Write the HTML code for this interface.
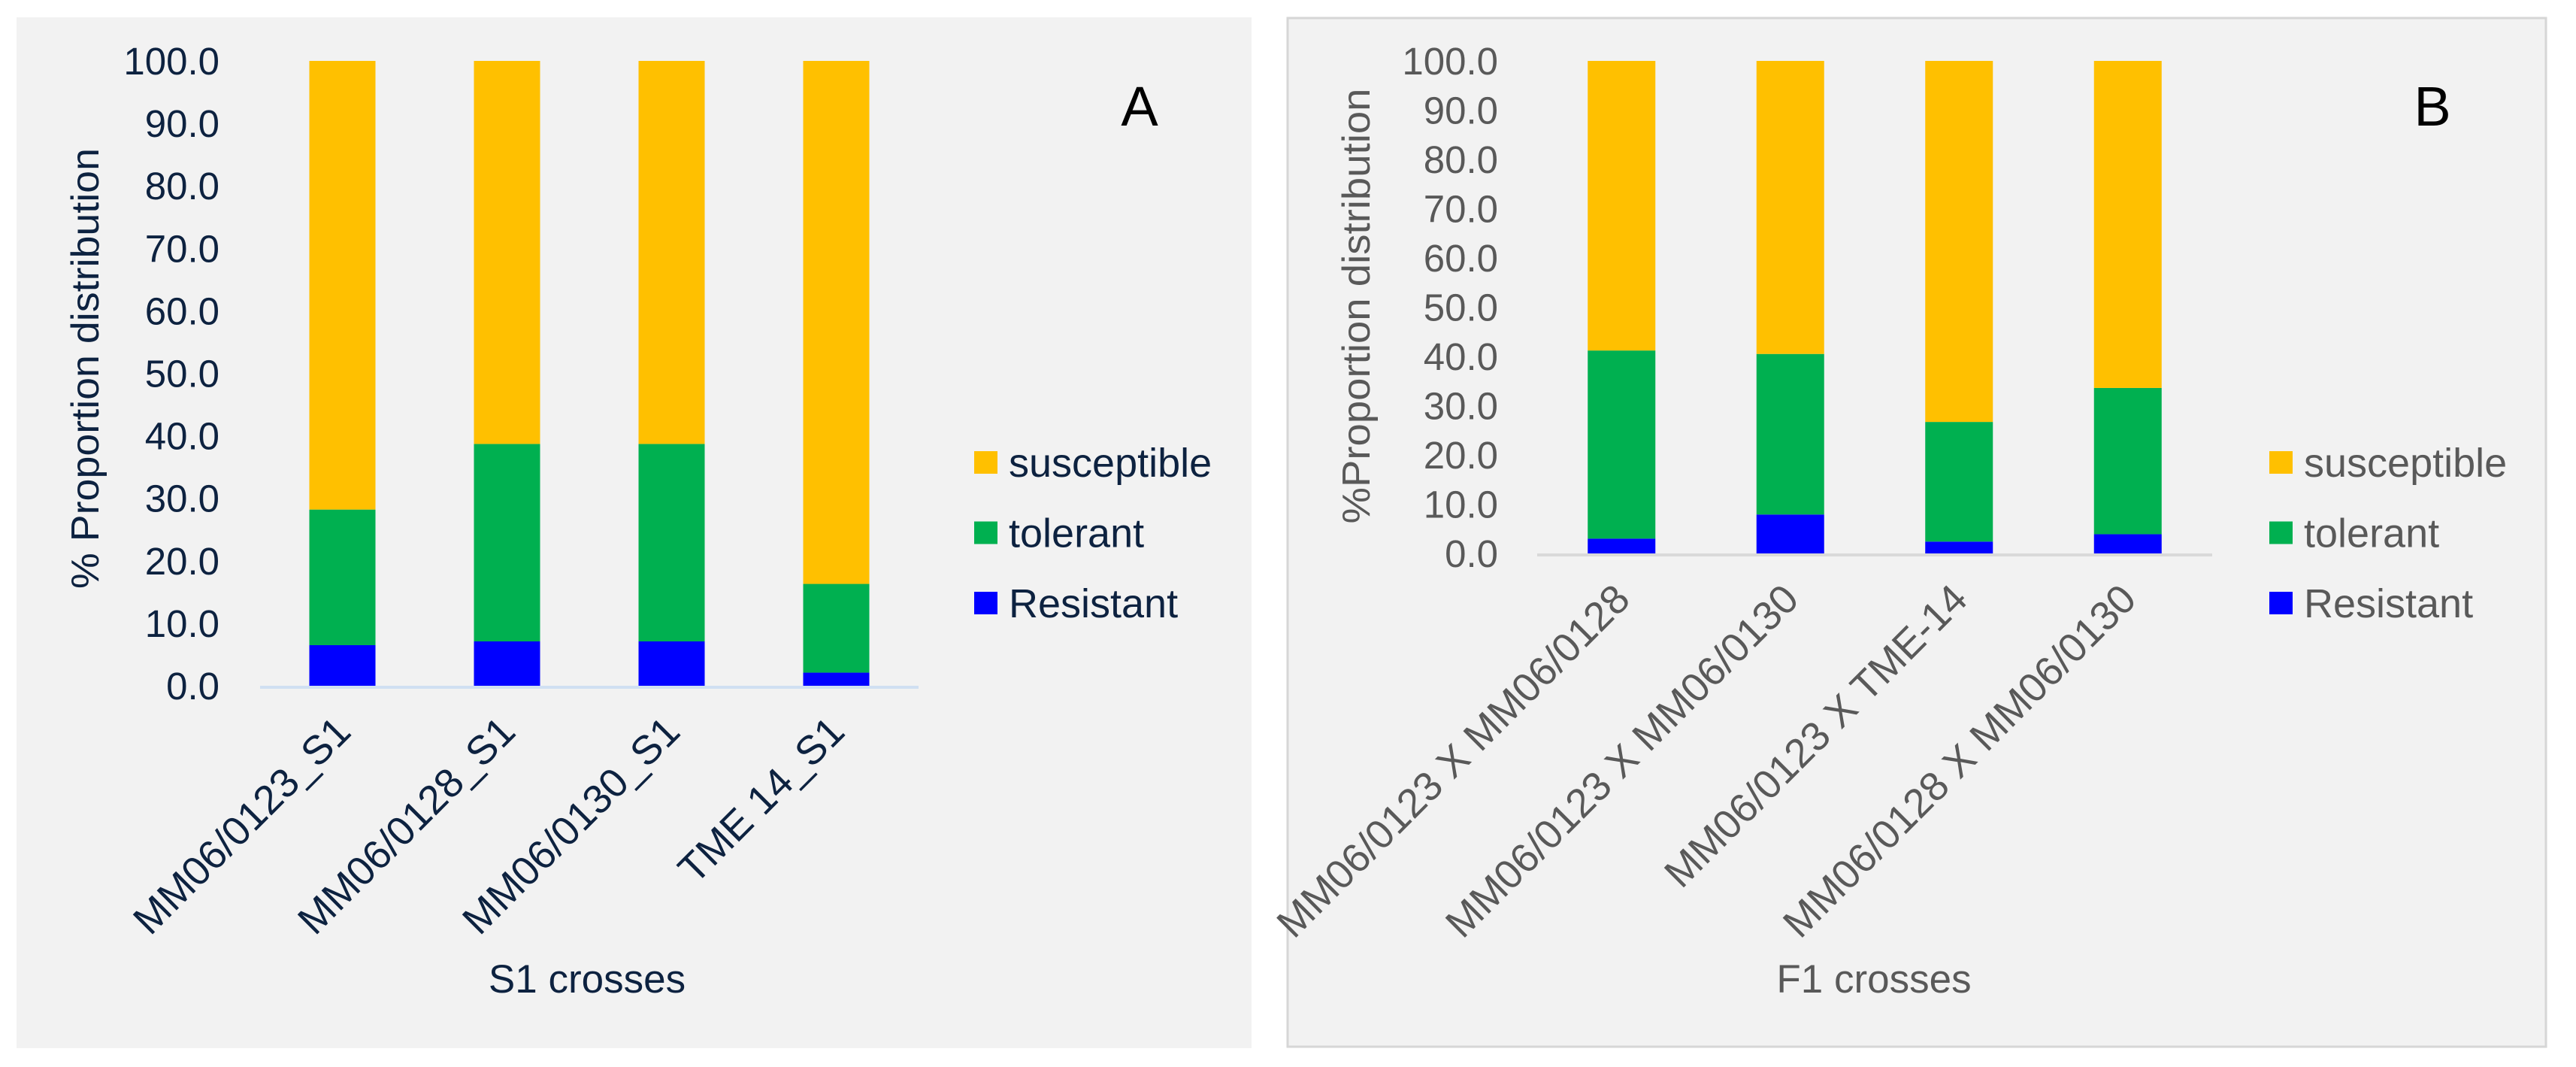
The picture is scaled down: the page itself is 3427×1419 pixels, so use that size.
<!DOCTYPE html>
<html><head><meta charset="utf-8"><style>
html,body{margin:0;padding:0;background:#fff;}
svg{display:block;font-family:"Liberation Sans",sans-serif;}
</style></head>
<body>
<svg id="chart" width="3427" height="1419" viewBox="0 0 3427 1419" xmlns="http://www.w3.org/2000/svg">
<rect x="22" y="23" width="1643" height="1371" fill="#f2f2f2"/>
<rect x="1713" y="24" width="1674" height="1368" fill="#f2f2f2" stroke="#d6d6d6" stroke-width="3"/>
<g id="panelA"></g>
<g id="panelB"></g>
</svg>
<script>
const categoriesA = ["MM06/0123_S1","MM06/0128_S1","MM06/0130_S1","TME 14_S1"];
const resistantA = [6.5, 7.1, 7.1, 2.1];
const tolerantA = [21.7, 31.6, 31.6, 14.2];
const susceptibleA = [71.8, 61.3, 61.3, 83.7];
const categoriesB = ["MM06/0123 X MM06/0128","MM06/0123 X MM06/0130","MM06/0123 X TME-14","MM06/0128 X MM06/0130"];
const resistantB = [3.0, 7.9, 2.4, 3.9];
const tolerantB = [38.2, 32.6, 24.3, 29.7];
const susceptibleB = [58.8, 59.5, 73.3, 66.4];
const tickValues = [0,10,20,30,40,50,60,70,80,90,100];
const seriesNames = ["susceptible","tolerant","Resistant"];
const seriesColors = {"Resistant":"#0000ff","tolerant":"#00b050","susceptible":"#ffc000"};

const NS = "http://www.w3.org/2000/svg";
function mk(parent, tag, attrs, text){
  const e = document.createElementNS(NS, tag);
  for (const k in attrs) e.setAttribute(k, attrs[k]);
  if (text !== undefined) e.textContent = text;
  parent.appendChild(e);
  return e;
}

function drawPanel(g, cfg){
  const yScale = v => cfg.base - (cfg.base - cfg.top) * v / 100;
  const xCenter = i => cfg.x0 + cfg.step * (i + 0.5);
  tickValues.forEach(v => {
    const t = mk(g, "text", {x: cfg.tickX, y: yScale(v) + 18, "text-anchor": "end", "font-size": 51, fill: cfg.textColor}, v.toFixed(1));
    
    
  });
  const ax = mk(g, "line", {x1: cfg.x0, x2: cfg.x0 + cfg.step * cfg.cats.length, y1: cfg.base + 2, y2: cfg.base + 2, stroke: cfg.axisColor, "stroke-width": 4});
  
  
  cfg.cats.forEach((c, i) => {
    const segs = [["Resistant", cfg.res[i]], ["tolerant", cfg.tol[i]], ["susceptible", cfg.sus[i]]];
    let cum = 0;
    segs.forEach(([name, v]) => {
      const y1 = yScale(cum + v), y0 = yScale(cum);
      const r = mk(g, "rect", {x: xCenter(i) - cfg.barW / 2, y: y1, width: cfg.barW, height: y0 - y1, fill: seriesColors[name]});
      
      
      cum += v;
    });
    const lx = xCenter(i) + 14, ly = cfg.base + 64;
    const t = mk(g, "text", {x: lx, y: ly, "text-anchor": "end", "font-size": 54, fill: cfg.textColor, transform: `rotate(-45 ${lx} ${ly})`}, c);
    
    
  });
  const yt = mk(g, "text", {x: cfg.yTitleX, y: cfg.yTitleY, "text-anchor": "middle", "font-size": 52, textLength: cfg.yTitleLen, lengthAdjust: "spacingAndGlyphs", fill: cfg.textColor, transform: `rotate(-90 ${cfg.yTitleX} ${cfg.yTitleY})`}, cfg.yTitle);
  
  
  const xt = mk(g, "text", {x: cfg.xTitleX, y: 1320, "text-anchor": "middle", "font-size": 53, fill: cfg.textColor}, cfg.xTitle);
  
  
  const pl = mk(g, "text", {x: cfg.letterX, y: 167, "text-anchor": "middle", "font-size": 74, fill: "#000"}, cfg.letter);
  
  
  seriesNames.forEach((n, k) => {
    const cy = 615 + k * 93.5;
    const sq = mk(g, "rect", {x: cfg.legX, y: cy - 15, width: 31, height: 30, fill: seriesColors[n]});
    
    
    const lt = mk(g, "text", {x: cfg.legX + 46, y: cy + 19, "font-size": 54, fill: cfg.textColor}, n);
    
    
  });
}

drawPanel(document.getElementById("panelA"), {
  cats: categoriesA, res: resistantA, tol: tolerantA, sus: susceptibleA,
  top: 81, base: 912, x0: 346, step: 219, barW: 88, tickX: 292,
  textColor: "#0d2240", axisColor: "#d0e0f2",
  yTitle: "% Proportion distribution", yTitleX: 131, yTitleY: 490, yTitleLen: 586,
  xTitle: "S1 crosses", xTitleX: 781, letter: "A", letterX: 1516, legX: 1296
});
drawPanel(document.getElementById("panelB"), {
  cats: categoriesB, res: resistantB, tol: tolerantB, sus: susceptibleB,
  top: 81, base: 736, x0: 2045, step: 224.5, barW: 90, tickX: 1993,
  textColor: "#595959", axisColor: "#d9d9d9",
  yTitle: "%Proportion distribution", yTitleX: 1822, yTitleY: 407, yTitleLen: 579,
  xTitle: "F1 crosses", xTitleX: 2493, letter: "B", letterX: 3236, legX: 3019
});
</script>
</body></html>
